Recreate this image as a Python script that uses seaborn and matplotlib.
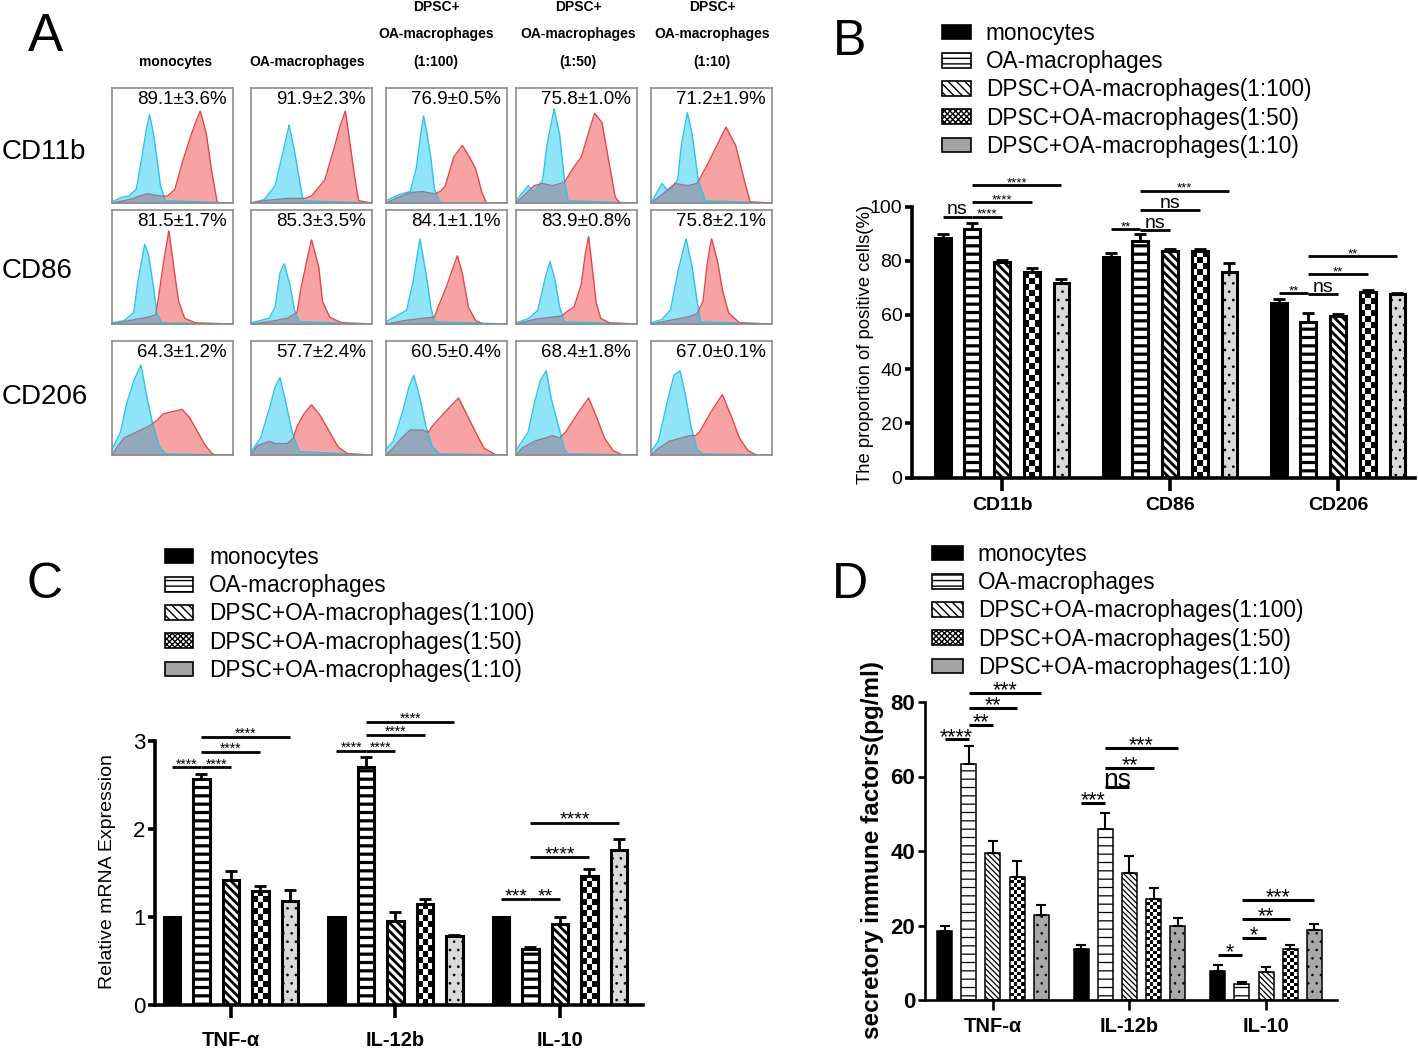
import numpy as np
import pandas as pd
import matplotlib
matplotlib.use("Agg")
import matplotlib.pyplot as plt
import seaborn as sns
from matplotlib.patches import Patch
from matplotlib.colors import ListedColormap

# ---------------- data ----------------
conditions = ["monocytes", "OA-macrophages", "DPSC+OA-macrophages(1:100)",
              "DPSC+OA-macrophages(1:50)", "DPSC+OA-macrophages(1:10)"]

# Panel A (flow cytometry overlays)
a_markers = ["CD11b", "CD86", "CD206"]
a_headers = [["monocytes"], ["OA-macrophages"],
             ["DPSC+", "OA-macrophages", "(1:100)"],
             ["DPSC+", "OA-macrophages", "(1:50)"],
             ["DPSC+", "OA-macrophages", "(1:10)"]]
a_percent = [["89.1±3.6%", "91.9±2.3%", "76.9±0.5%", "75.8±1.0%", "71.2±1.9%"],
             ["81.5±1.7%", "85.3±3.5%", "84.1±1.1%", "83.9±0.8%", "75.8±2.1%"],
             ["64.3±1.2%", "57.7±2.4%", "60.5±0.4%", "68.4±1.8%", "67.0±0.1%"]]
# outline points (x, height) of the isotype (blue) and stained (red) histograms
a_isotype = [
    [[(0, .01), (.08, .05), (.14, .06), (.2, .12), (.24, .35), (.28, .62), (.31, .77), (.34, .62), (.37, .4), (.4, .15), (.44, .02), (1, 0)],
     [(0, 0), (.11, .03), (.2, .15), (.255, .4), (.315, .68), (.36, .45), (.4, .2), (.43, .02), (1, 0)],
     [(0, .02), (.1, .07), (.2, .1), (.25, .3), (.28, .55), (.31, .76), (.34, .6), (.37, .4), (.4, .12), (.45, 0), (1, 0)],
     [(0, .02), (.1, .15), (.15, .1), (.22, .2), (.255, .5), (.315, .82), (.36, .6), (.4, .2), (.43, .02), (1, 0)],
     [(0, 0), (.09, .17), (.145, .1), (.22, .2), (.25, .5), (.3, .79), (.34, .6), (.39, .2), (.45, .02), (1, 0)]],
    [[(0, .01), (.1, .03), (.18, .1), (.21, .35), (.27, .7), (.3, .62), (.34, .35), (.37, .1), (.41, .01), (1, 0)],
     [(0, .01), (.15, .05), (.2, .15), (.24, .45), (.275, .53), (.32, .35), (.36, .12), (.4, .02), (1, 0)],
     [(0, .02), (.1, .08), (.17, .12), (.22, .35), (.28, .75), (.33, .45), (.37, .15), (.4, .02), (1, 0)],
     [(0, .01), (.11, .05), (.18, .12), (.24, .4), (.28, .55), (.32, .4), (.36, .15), (.4, .02), (1, 0)],
     [(0, .01), (.09, .04), (.16, .12), (.22, .45), (.29, .75), (.34, .5), (.38, .2), (.41, .02), (1, 0)]],
    [[(0, .05), (.07, .2), (.12, .45), (.18, .65), (.24, .79), (.28, .55), (.33, .3), (.39, .08), (.44, .01), (1, 0)],
     [(0, .03), (.08, .15), (.15, .4), (.2, .6), (.24, .68), (.29, .45), (.34, .2), (.4, .03), (1, 0)],
     [(0, .05), (.06, .12), (.13, .35), (.19, .6), (.23, .7), (.28, .5), (.33, .25), (.38, .08), (.44, .01), (1, 0)],
     [(0, .04), (.1, .2), (.15, .45), (.2, .65), (.25, .74), (.29, .5), (.34, .3), (.4, .05), (.43, .01), (1, 0)],
     [(0, .03), (.06, .12), (.13, .45), (.19, .7), (.24, .74), (.28, .55), (.33, .25), (.38, .05), (.43, .01), (1, 0)]],
]
a_stained = [
    [[(0, 0), (.15, .03), (.25, .07), (.3, .08), (.4, .06), (.46, .06), (.52, .12), (.58, .35), (.64, .55), (.69, .7), (.73, .8), (.78, .6), (.82, .3), (.87, 0), (1, 0)],
     [(0, 0), (.1, .02), (.3, .04), (.45, .04), (.5, .06), (.61, .2), (.68, .45), (.73, .65), (.78, .8), (.82, .5), (.86, .2), (.89, .02), (1, 0)],
     [(0, 0), (.1, .05), (.2, .09), (.3, .1), (.4, .08), (.45, .1), (.49, .15), (.56, .4), (.63, .5), (.68, .42), (.74, .3), (.79, .1), (.83, 0), (1, 0)],
     [(0, 0), (.05, .05), (.15, .15), (.22, .17), (.3, .15), (.4, .18), (.47, .3), (.54, .4), (.61, .65), (.65, .78), (.71, .7), (.77, .35), (.82, .05), (.86, 0), (1, 0)],
     [(0, 0), (.1, .08), (.2, .17), (.3, .15), (.38, .17), (.45, .3), (.52, .45), (.62, .66), (.7, .5), (.77, .2), (.82, .01), (1, 0)]],
    [[(0, 0), (.15, .03), (.3, .06), (.36, .08), (.38, .2), (.42, .5), (.47, .82), (.51, .5), (.55, .2), (.6, .05), (.69, .01), (1, 0)],
     [(0, 0), (.15, .02), (.3, .05), (.38, .1), (.41, .3), (.47, .6), (.5, .74), (.56, .5), (.59, .2), (.65, .06), (.75, .01), (1, 0)],
     [(0, 0), (.15, .03), (.3, .05), (.4, .06), (.42, .12), (.49, .3), (.54, .45), (.59, .6), (.63, .45), (.68, .15), (.74, .03), (.8, 0), (1, 0)],
     [(0, 0), (.15, .04), (.3, .06), (.38, .07), (.41, .1), (.48, .15), (.54, .35), (.57, .6), (.6, .77), (.63, .5), (.66, .2), (.7, .05), (.77, .01), (1, 0)],
     [(0, 0), (.15, .03), (.3, .06), (.38, .09), (.43, .2), (.46, .5), (.5, .75), (.55, .55), (.59, .3), (.64, .1), (.73, .01), (1, 0)]],
    [[(0, 0), (.03, .05), (.1, .15), (.2, .2), (.3, .25), (.37, .3), (.42, .36), (.5, .38), (.58, .4), (.64, .33), (.7, .22), (.76, .1), (.82, .02), (.85, 0), (1, 0)],
     [(0, 0), (.05, .08), (.15, .12), (.2, .1), (.3, .1), (.35, .15), (.38, .25), (.43, .35), (.5, .44), (.57, .35), (.65, .2), (.72, .07), (.8, .01), (1, 0)],
     [(0, 0), (.05, .05), (.13, .15), (.2, .22), (.3, .22), (.35, .2), (.38, .25), (.49, .38), (.6, .5), (.67, .35), (.74, .2), (.81, .06), (.91, 0), (1, 0)],
     [(0, 0), (.05, .06), (.15, .12), (.25, .15), (.3, .17), (.36, .15), (.41, .2), (.5, .35), (.6, .5), (.66, .35), (.73, .15), (.8, .04), (.88, 0), (1, 0)],
     [(0, 0), (.05, .05), (.15, .12), (.25, .15), (.32, .17), (.37, .17), (.4, .2), (.48, .35), (.59, .53), (.66, .35), (.73, .15), (.8, .04), (.87, 0), (1, 0)]],
]

# Panel B
b_groups = ["CD11b", "CD86", "CD206"]
b_mean = [[88.2, 81.3, 64.5], [91.7, 87.3, 57.3], [79.6, 83.7, 59.5], [75.9, 83.7, 68.3], [71.9, 75.9, 67.6]]
b_sd = [[1.5, 1.7, 1.4], [2.1, 2.4, 3.3], [0.8, 0.8, 0.8], [1.3, 0.8, 0.9], [1.5, 3.3, 0.4]]
b_sig = [(0, 0, 1, 96.3, "ns"), (0, 1, 2, 96.3, "****"), (0, 1, 3, 101.8, "****"), (0, 1, 4, 108.0, "****"),
         (1, 0, 1, 91.7, "**"), (1, 1, 2, 91.4, "ns"), (1, 1, 3, 98.8, "ns"), (1, 1, 4, 105.9, "***"),
         (2, 0, 1, 67.9, "**"), (2, 1, 2, 67.7, "ns"), (2, 1, 3, 75.1, "**"), (2, 1, 4, 81.6, "**")]
b_ylabel = "The proportion of positive cells(%)"

# Panel C
c_groups = ["TNF-α", "IL-12b", "IL-10"]
c_mean = [[1.0, 1.0, 1.0], [2.57, 2.71, 0.64], [1.42, 0.95, 0.92], [1.30, 1.15, 1.47], [1.18, 0.78, 1.76]]
c_sd = [[0, 0, 0], [0.06, 0.11, 0.02], [0.10, 0.11, 0.08], [0.05, 0.05, 0.08], [0.13, 0.02, 0.13]]
c_sig = [(0, 0, 1, 2.70, "****"), (0, 1, 2, 2.70, "****"), (0, 1, 3, 2.88, "****"), (0, 1, 4, 3.05, "****"),
         (1, 0, 1, 2.89, "****"), (1, 1, 2, 2.89, "****"), (1, 1, 3, 3.07, "****"), (1, 1, 4, 3.22, "****"),
         (2, 0, 1, 1.20, "***"), (2, 1, 2, 1.20, "**"), (2, 1, 3, 1.68, "****"), (2, 1, 4, 2.07, "****")]
c_ylabel = "Relative mRNA Expression"

# Panel D
d_groups = ["TNF-α", "IL-12b", "IL-10"]
d_mean = [[18.6, 13.6, 7.9], [63.4, 45.8, 4.3], [39.5, 34.2, 7.6], [33.1, 27.2, 13.7], [22.8, 19.8, 18.9]]
d_sd = [[1.2, 1.1, 1.5], [4.7, 4.5, 0.6], [3.2, 4.4, 1.3], [4.3, 2.8, 1.1], [2.7, 2.3, 1.5]]
d_sig = [(0, 0, 1, 70.0, "****"), (0, 1, 2, 73.9, "**"), (0, 1, 3, 78.4, "**"), (0, 1, 4, 82.5, "***"),
         (1, 0, 1, 52.9, "***"), (1, 1, 2, 57.3, "ns"), (1, 1, 3, 62.3, "**"), (1, 1, 4, 67.6, "***"),
         (2, 0, 1, 12.1, "*"), (2, 1, 2, 16.6, "*"), (2, 1, 3, 21.7, "**"), (2, 1, 4, 26.8, "***")]
d_ylabel = "secretory immune factors(pg/ml)"

# ---------------- style ----------------
sns.set_theme(style="ticks")
plt.rcParams.update({
    "font.family": ["Liberation Sans", "DejaVu Sans"],
    "text.color": "black", "axes.labelcolor": "black", "axes.edgecolor": "black",
    "xtick.color": "black", "ytick.color": "black", "hatch.linewidth": 1.0,
    "figure.facecolor": "white", "axes.facecolor": "white",
})
W, H = 1418, 1051
fig = plt.figure(figsize=(W / 100, H / 100), dpi=100)


def frect(x0, y0, x1, y1):
    return [x0 / W, 1 - y1 / H, (x1 - x0) / W, (y1 - y0) / H]


def ftxt(x, y, s, **kw):
    return fig.text(x / W, 1 - y / H, s, **kw)


# ---------------- panel A ----------------
A_COLS = [(112, 233), (251, 372), (386, 507), (516, 637), (651, 772)]
A_ROWS = [(88, 203), (210, 324), (341, 455)]
HEAD_X = [176, 307, 436, 578, 712]
HEAD_Y = [7, 34, 62]
ROW_Y = [152, 271, 397]
CY_FILL, CY_EDGE = "#8fe4f8", "#2ec3ea"
RD_FILL, RD_EDGE = "#f8a3a3", "#e2484b"
OV_FILL, OV_EDGE = "#93a9bb", "#8a7f97"

ftxt(45, 37, "A", fontsize=38, ha="center", va="center")
for c, lines in enumerate(a_headers):
    for k, line in enumerate(lines):
        ftxt(HEAD_X[c], HEAD_Y[3 - len(lines) + k], line, fontsize=10, fontweight="bold",
             ha="center", va="center")
for r, name in enumerate(a_markers):
    ftxt(2, ROW_Y[r], name, fontsize=20, ha="left", va="center")

xs = np.linspace(0, 1, 600)
for r in range(3):
    for c in range(5):
        ax = fig.add_axes(frect(A_COLS[c][0], A_ROWS[r][0], A_COLS[c][1], A_ROWS[r][1]))
        bx, by = zip(*a_isotype[r][c])
        rx, ry = zip(*a_stained[r][c])
        yb = np.interp(xs, bx, by)
        yr = np.interp(xs, rx, ry)
        ov = np.minimum(yb, yr)
        ax.fill_between(xs, 0, yb, color=CY_FILL, lw=0)
        ax.fill_between(xs, 0, yr, color=RD_FILL, lw=0)
        ax.fill_between(xs, 0, ov, color=OV_FILL, lw=0)
        ax.plot(xs, yb, color=CY_EDGE, lw=1)
        ax.plot(xs, np.where(yr >= yb, yr, np.nan), color=RD_EDGE, lw=1)
        ax.plot(xs, np.where(yr < yb, yr, np.nan), color=OV_EDGE, lw=1)
        ax.set_xlim(0, 1)
        ax.set_ylim(0, 1)
        ax.set_xticks([])
        ax.set_yticks([])
        for s in ax.spines.values():
            s.set_visible(True)
            s.set_color("#8c8c8c")
            s.set_linewidth(1.2)
        ax.text(0.58, 0.975, a_percent[r][c], transform=ax.transAxes, ha="center", va="top", fontsize=13.5)


# ---------------- bar panels ----------------
CHECK = ListedColormap(["white", "black"])


def legend_handles():
    fills = ["black", "white", "white", "white", "#a3a3a3"]
    hatches = [None, "---", "\\\\\\\\", "xxxxxx", None]
    return [Patch(facecolor=f, edgecolor="black", hatch=h, linewidth=1.2) for f, h in zip(fills, hatches)]


def checker_fill(ax, p, cell):
    x0, y0, w, h = p.get_x(), p.get_y(), p.get_width(), p.get_height()
    (px0, py0), (px1, py1) = ax.transData.transform([(x0, y0), (x0 + w, y0 + h)])
    nx = max(1, int(round((px1 - px0) / cell)))
    ny = max(1, int(round((py1 - py0) / cell)))
    arr = np.add.outer(np.arange(ny), np.arange(nx)) % 2
    im = ax.imshow(arr, extent=[x0, x0 + w, y0, y0 + h], cmap=CHECK, interpolation="nearest",
                   aspect="auto", origin="lower", zorder=1.0)
    im.set_clip_path(p)
    p.set_facecolor("none")
    p.set_zorder(1.5)


def bar_panel(rect, groups, means, sds, sig, st):
    ax = fig.add_axes(frect(*rect))
    df = pd.DataFrame({
        "group": [g for k in range(5) for g in groups],
        "condition": [conditions[k] for k in range(5) for g in groups],
        "value": [means[k][i] for k in range(5) for i in range(len(groups))],
    })
    sns.barplot(data=df, x="group", y="value", hue="condition", order=groups, hue_order=conditions,
                palette=dict(zip(conditions, st["fills"])), width=st["width"], gap=st["gap"],
                errorbar=None, saturation=1, legend=False, edgecolor="black",
                linewidth=st["edge_lw"], ax=ax)
    ax.set_xlim(*st["xlim"])
    ax.set_ylim(*st["ylim"])
    bars = list(ax.containers)[:5]
    for k, cont in enumerate(bars):
        ex, eh, ee = [], [], []
        for i, p in enumerate(cont):
            if k == 3:
                checker_fill(ax, p, st["cell"])
            elif st["hatches"][k]:
                p.set_hatch(st["hatches"][k])
                if hasattr(p, "set_hatch_linewidth"):
                    p.set_hatch_linewidth(st["hatch_lw"][k])
            if sds[k][i] > 0:
                ex.append(p.get_x() + p.get_width() / 2)
                eh.append(p.get_height())
                ee.append(sds[k][i])
        if ex:
            ax.errorbar(ex, eh, yerr=[np.zeros(len(ee)), ee], fmt="none", ecolor="black",
                        elinewidth=st["err_lw"], capsize=st["cap"], capthick=st["err_lw"], zorder=3)
    for (g, i, j, y, lab) in sig:
        pi, pj = bars[i][g], bars[j][g]
        x1 = pi.get_x() + pi.get_width() / 2
        x2 = pj.get_x() + pj.get_width() / 2
        ax.plot([x1, x2], [y, y], color="black", lw=st["sig_lw"], clip_on=False, solid_capstyle="butt")
        fs, off = st["sig_font"](g, lab)
        ax.annotate(lab, xy=((x1 + x2) / 2, y), xytext=(0, off), textcoords="offset points",
                    ha="center", va="baseline", fontsize=fs, annotation_clip=False)
    ax.set_xlim(*st["xlim"])
    ax.set_ylim(*st["ylim"])
    ax.set_yticks(st["yticks"])
    ax.set_xlabel("")
    ax.set_ylabel("")
    for s in ["top", "right"]:
        ax.spines[s].set_visible(False)
    for s in ["left", "bottom"]:
        ax.spines[s].set_linewidth(st["spine_lw"])
    ax.tick_params(axis="y", length=st["ytick_len"], width=st["spine_lw"], pad=st["ytick_pad"])
    ax.tick_params(axis="x", length=st["xtick_len"], width=st["spine_lw"], pad=st["xtick_pad"])
    for lab in ax.get_yticklabels():
        lab.set_fontsize(st["ytick_fs"])
        lab.set_fontweight(st["ytick_fw"])
    for lab in ax.get_xticklabels():
        lab.set_fontsize(st["xtick_fs"])
        lab.set_fontweight("bold")
    ax.legend(legend_handles(), conditions, loc="upper left",
              bbox_to_anchor=(st["leg_xy"][0] / W, 1 - st["leg_xy"][1] / H),
              bbox_transform=fig.transFigure, frameon=False, fontsize=16.3,
              handlelength=st["leg_hl"], handleheight=0.62, handletextpad=st["leg_pad"],
              labelspacing=0.23, borderpad=0, borderaxespad=0)
    return ax


thick = dict(fills=["black", "white", "white", "white", "#dadada"],
             hatches=[None, "--", "\\\\\\\\", None, ".."],
             hatch_lw=[1, 2.3, 2.0, 1, 0.7], cell=6,
             edge_lw=2.2, err_lw=2.0, cap=4, sig_lw=2.0, spine_lw=2.6,
             ytick_len=5, ytick_pad=2, xtick_len=9, xtick_pad=5, ytick_fw="normal")

# Panel B
st_b = dict(thick, width=0.884, gap=0.47, xlim=(-0.536, 2.458), ylim=(0, 100),
            yticks=[0, 20, 40, 60, 80, 100], ytick_fs=14, xtick_fs=14,
            sig_font=lambda g, lab: (14, 1.5) if lab == "ns" else (9.5, -1.0),
            leg_xy=(942, 22), leg_hl=1.27, leg_pad=0.66)
bar_panel((912, 206.5, 1415, 477.5), b_groups, b_mean, b_sd, b_sig, st_b)
ftxt(850, 42, "B", fontsize=36, ha="center", va="center")
ftxt(865, 344, b_ylabel, fontsize=13.3, rotation=90, ha="center", va="center")

# Panel C
st_c = dict(thick, width=0.897, gap=0.45, xlim=(-0.462, 2.505), ylim=(0, 3),
            yticks=[0, 1, 2, 3], ytick_fs=16, xtick_fs=14.5, xtick_pad=10,
            sig_font=lambda g, lab: (14, -1.5) if g == 2 else (10, -1.0),
            leg_xy=(165, 546), leg_hl=1.22, leg_pad=0.74)
bar_panel((155, 741, 643, 1005), c_groups, c_mean, c_sd, c_sig, st_c)
ftxt(45, 585, "C", fontsize=36, ha="center", va="center")
ftxt(108, 872, c_ylabel, fontsize=14, rotation=90, ha="center", va="center")

# Panel D
st_d = dict(fills=["black", "white", "white", "white", "#a8a8a8"],
            hatches=[None, "--", "\\\\\\\\\\\\", None, ".."],
            hatch_lw=[1, 0.9, 0.9, 1, 0.6], cell=3.5,
            edge_lw=1.1, err_lw=1.5, cap=3.5, sig_lw=2.2, spine_lw=1.9,
            ytick_len=5, ytick_pad=2, xtick_len=7, xtick_pad=5, ytick_fw="bold",
            width=0.886, gap=0.38, xlim=(-0.498, 2.520), ylim=(0, 80),
            yticks=[0, 20, 40, 60, 80], ytick_fs=16, xtick_fs=14.5,
            sig_font=lambda g, lab: (19, 0) if lab == "ns" else (15.5, -2.5),
            leg_xy=(932, 543), leg_hl=1.36, leg_pad=0.66)
bar_panel((925, 702, 1337, 1000), d_groups, d_mean, d_sd, d_sig, st_d)
ftxt(850, 585, "D", fontsize=36, ha="center", va="center")
ftxt(872, 850, d_ylabel, fontsize=17.5, fontweight="bold", rotation=90, ha="center", va="center")

fig.savefig("out.png", dpi=100, facecolor="white")
